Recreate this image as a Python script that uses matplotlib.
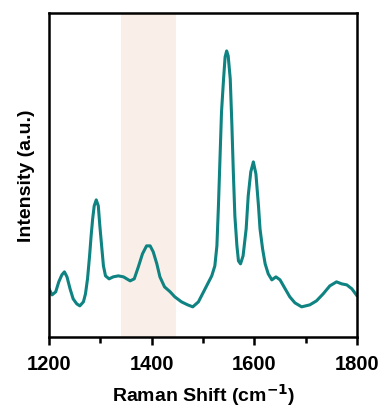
import matplotlib
matplotlib.use("Agg")
from matplotlib import pyplot as plt
from matplotlib.ticker import MultipleLocator

# Raman shift (cm^-1) and intensity (a.u.)
shift = [1200, 1206, 1213, 1219, 1225, 1230, 1235, 1241, 1247, 1254,
         1260, 1267, 1271, 1275, 1279, 1282, 1285, 1288, 1292, 1296,
         1299, 1303, 1306, 1310, 1317, 1325, 1335, 1345, 1358, 1366,
         1374, 1382, 1390, 1397, 1403, 1410, 1416, 1425, 1436, 1445,
         1458, 1470, 1480, 1491, 1504, 1511, 1517, 1523, 1527, 1530,
         1533, 1536, 1540, 1543, 1546, 1549, 1553, 1556, 1559, 1562,
         1566, 1569, 1573, 1578, 1584, 1588, 1593, 1598, 1603, 1608,
         1611, 1616, 1621, 1627, 1634, 1642, 1650, 1660, 1669, 1679,
         1692, 1708, 1721, 1734, 1747, 1760, 1770, 1780, 1790, 1800]
intensity = [48, 42, 45, 55, 62, 65, 60, 48, 38, 33,
             31, 35, 43, 58, 81, 101, 118, 131, 137, 131,
             111, 88, 71, 61, 58, 60, 61, 60, 56, 58,
             70, 83, 91, 91, 85, 73, 60, 50, 45, 40,
             35, 32, 30, 35, 48, 55, 61, 71, 91, 131,
             178, 225, 258, 280, 286, 281, 258, 215, 165, 121,
             91, 76, 73, 81, 108, 141, 165, 175, 163, 131,
             108, 88, 73, 63, 57, 60, 57, 48, 40, 34,
             30, 32, 36, 43, 51, 55, 53, 52, 48, 41]

band = (1340, 1447)

plt.rcParams["font.family"] = ["Liberation Sans", "DejaVu Sans"]
plt.rcParams["font.weight"] = "bold"
plt.rcParams["axes.labelweight"] = "bold"

fig = plt.figure(figsize=(3.86, 4.10), dpi=100)
ax = fig.add_axes([0.127, 0.176, 0.798, 0.790])

ax.axvspan(band[0], band[1], color="#f9efe8", lw=0, zorder=0)
ax.plot(shift, intensity, c="#0f8282", lw=2.2, solid_joinstyle="round",
        solid_capstyle="round", zorder=2)

ax.set_xlim(1200, 1800)
ax.set_ylim(0, 324)
ax.xaxis.set_major_locator(MultipleLocator(200))
ax.xaxis.set_minor_locator(MultipleLocator(100))
ax.tick_params(axis="x", which="major", direction="out", length=6, width=1.8,
               labelsize=14.5, pad=6)
ax.tick_params(axis="x", which="minor", direction="out", length=4, width=1.8)
ax.set_yticks([])
for sp in ax.spines.values():
    sp.set_linewidth(1.8)

ax.set_xlabel("Raman Shift (cm$^{\\mathbf{-1}}$)", fontsize=14, labelpad=6)
ax.set_ylabel("Intensity (a.u.)", fontsize=14, labelpad=10)

fig.savefig("out.png", dpi=100)
